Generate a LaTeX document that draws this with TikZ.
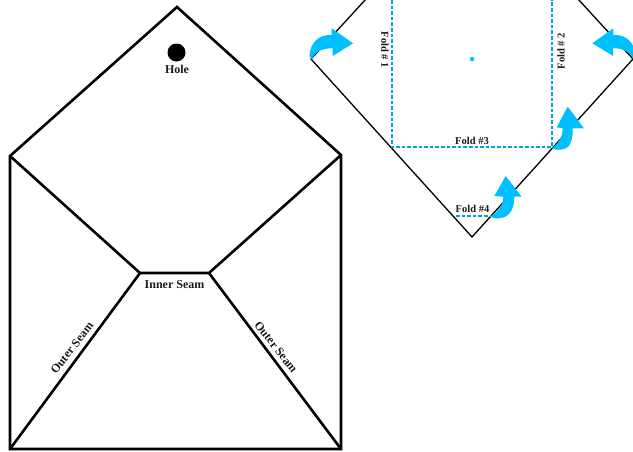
\documentclass[tikz,border=0pt]{standalone}
\usepackage{fontspec}
\setmainfont{Liberation Serif}
\definecolor{skyb}{HTML}{00BFFF}
\definecolor{ink}{HTML}{1A1A1A}
\tikzset{
  heavy/.style={draw=black,line width=2.6pt,line join=miter},
  thin/.style={draw=black,line width=1.3pt},
  fold/.style={draw=skyb!85!black,line width=1.6pt,dash pattern=on 3.6pt off 2pt},
  turn/.style={fill=skyb,draw=none},
  lab/.style={inner sep=0pt,font=\fontsize{12}{12}\selectfont\bfseries,text=ink},
  slab/.style={inner sep=0pt,font=\fontsize{10.5}{10.5}\selectfont\bfseries,text=ink},
}
\begin{document}
\begin{tikzpicture}[x=1pt,y=-1pt]
\useasboundingbox (0,0) rectangle (633,451);
\begin{scope}
\clip (0,0) rectangle (633,451);
% envelope
\coordinate (apex) at (177,7);
\coordinate (tl) at (10,156);
\coordinate (tr) at (341,155);
\coordinate (bl) at (10,449);
\coordinate (br) at (341,449);
\coordinate (il) at (140,273);
\coordinate (ir) at (209,273);
\draw[heavy] (tl) -- (apex) -- (tr) -- (br) -- (bl) -- cycle;
\draw[heavy] (tl) -- (il) -- (ir) -- (tr);
\draw[heavy] (il) -- (bl);
\draw[heavy] (ir) -- (br);
\node[circle,fill=black,minimum size=18pt,inner sep=0pt] (hole) at (176.5,52.5) {};
\node[lab] (holelab) at (177,69.5) {Hole};
\node[lab] (inner) at (174.5,284.5) {Inner Seam};
\node[lab,rotate=52] (outl) at (72,348) {Outer Seam};
\node[lab,rotate=-52] (outr) at (276,347) {Outer Seam};
% folded square
\coordinate (sl) at (311,59);
\coordinate (sb) at (472,237);
\coordinate (sr) at (633,59);
\coordinate (slt) at (366,-1);
\coordinate (srt) at (578,-1);
\draw[thin] (slt) -- (sl) -- (sb) -- (sr) -- (srt);
\coordinate (f1t) at (392,0);
\coordinate (f1b) at (392,147);
\coordinate (f2t) at (552,0);
\coordinate (f2b) at (552,147);
\coordinate (f4l) at (456,216);
\coordinate (f4r) at (490,216);
\draw[fold] (f1t) -- (f1b) -- (f2b) -- (f2t);
\draw[fold] (f4l) -- (f4r);
\node[circle,fill=skyb,minimum size=4.5pt,inner sep=0pt] (centre) at (472,59) {};
\node[slab,rotate=-90] (fa) at (385,50) {Fold \# 1};
\node[slab,rotate=90] (fb) at (561,51) {Fold \# 2};
\node[slab] (fc) at (472,141) {Fold \#3};
\node[slab] (fd) at (472.5,209) {Fold \#4};
% turn arrows
\fill[turn] (353,43.3) -- (331.7,28.3) -- (331.7,35)
  .. controls (320,34) and (310,42) .. (309.5,56)
  -- (311.7,59.3) .. controls (315,52) and (322,48) .. (332.5,48.3)
  -- (332.7,56) -- cycle;
\fill[turn] (592.3,43.3) -- (613.3,28.3) -- (613.3,35)
  .. controls (625,34) and (635,42) .. (635.5,56)
  -- (633.3,59.3) .. controls (630,52) and (623,48) .. (613,48.3)
  -- (613.3,56) -- cycle;
\fill[turn] (567.7,106.7) -- (556.7,127.3) -- (562.7,128.3)
  .. controls (562.7,137) and (558,144) .. (551.7,148.3)
  .. controls (558,151) and (565,150) .. (569,146)
  .. controls (572,141) and (573,135) .. (572.7,128.3)
  -- (584,128.3) -- cycle;
\fill[turn] (505.7,176) -- (494.3,196) -- (503.3,196.7)
  .. controls (503.5,205) and (498,212) .. (490,216.7)
  .. controls (495,219.5) and (503,219) .. (508,215)
  .. controls (513,210) and (514.5,204) .. (514.3,196.7)
  -- (521.7,196.7) -- cycle;
\end{scope}
\end{tikzpicture}
\end{document}
